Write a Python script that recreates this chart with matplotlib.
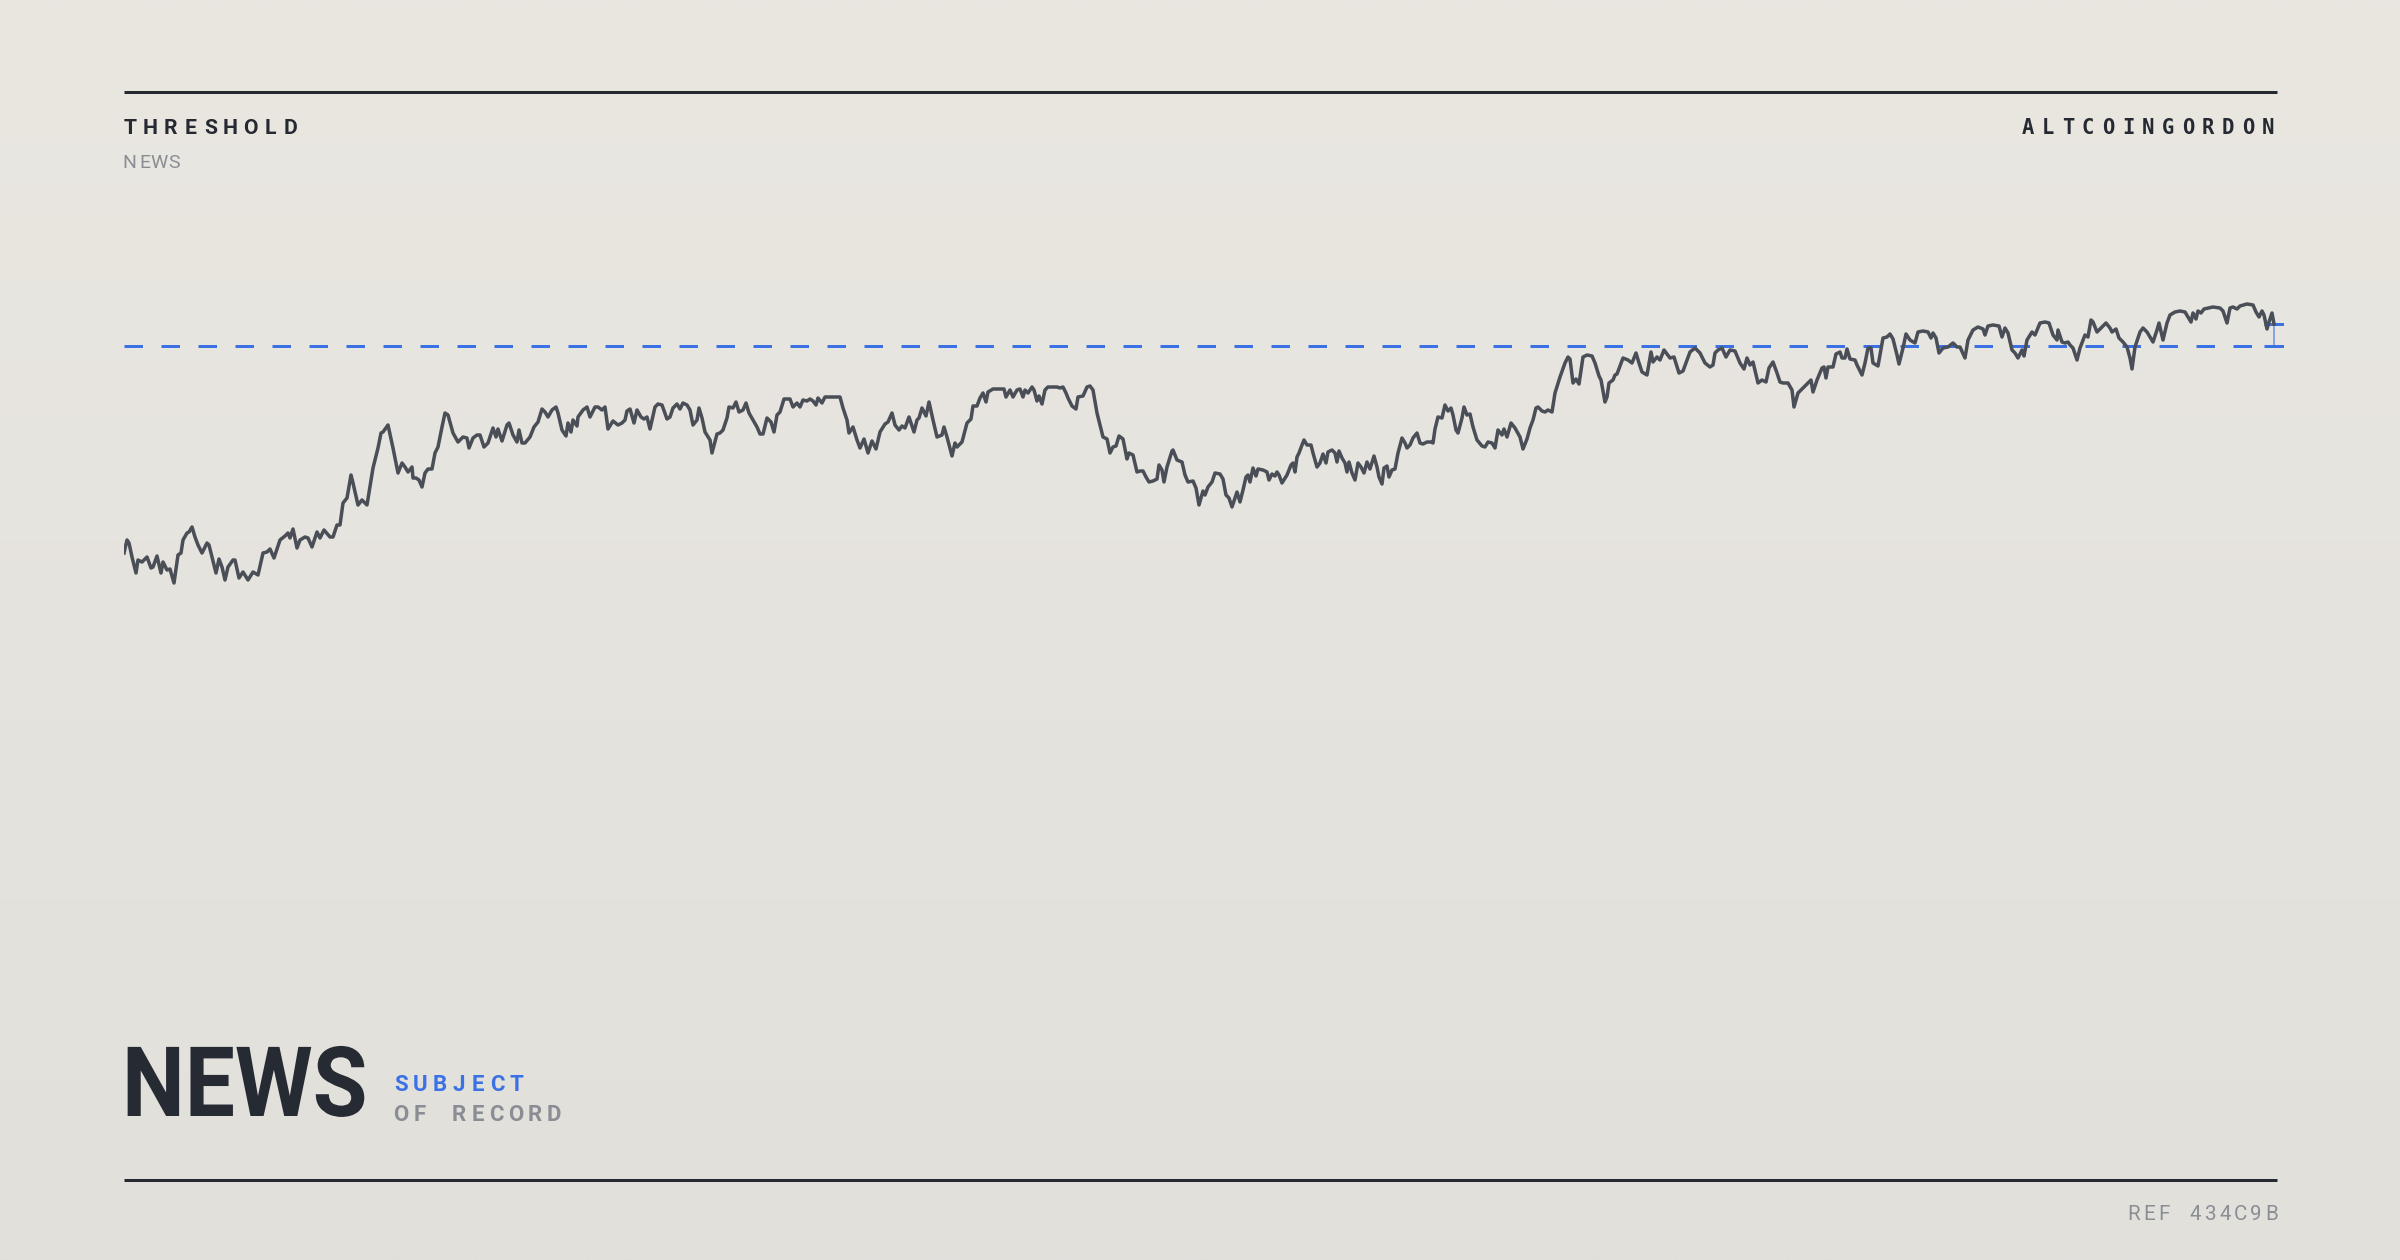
import numpy as np
import matplotlib
matplotlib.use("Agg")
import matplotlib.pyplot as plt
from matplotlib.patheffects import AbstractPathEffect
from matplotlib.transforms import Affine2D

# ---------------- data ----------------
day = [0,3,5,8,12,14,18,23,27,29,33,37,39,43,46,50,54,57,59,63,65,68,71,74,78,83,85,88,92,95,
       98,101,104,109,111,115,119,124,129,134,139,143,146,150,156,161,164,166,169,173,176,181,184,188,193,196,200,206,209,213,
       216,219,223,227,229,234,238,243,249,254,257,259,264,269,274,278,281,284,288,289,292,295,298,301,304,308,311,314,318,321,
       324,329,334,339,343,345,349,353,
       356,360,364,369,372,374,378,383,385,389,393,395,398,401,406,410,414,418,421,424,428,432,434,438,442,444,447,449,453,454,
       459,463,466,471,474,478,481,484,489,494,498,501,503,506,510,513,517,520,523,526,531,534,538,543,546,549,553,556,559,563,
       566,569,573,575,578,581,586,588,593,596,599,603,605,609,612,615,619,622,625,629,633,636,639,643,647,650,653,656,660,666,
       669,673,676,679,683,686,689,692,694,698,701,709,716,719,723,725,729,733,
       736,740,744,748,752,756,761,764,768,771,775,778,781,785,790,793,795,798,802,805,809,813,818,820,823,828,831,833,838,843,
       847,849,853,856,859,862,864,869,876,880,882,886,889,893,896,899,901,904,908,910,913,915,918,921,924,933,936,939,942,944,
       948,952,954,959,963,966,969,973,976,979,983,986,989,992,995,999,1003,1005,1009,1013,1016,1019,1022,1025,1029,1033,1035,1038,1040,1043,
       1048,1049,1053,1058,1061,1064,1069,1072,1075,1079,1081,1084,1088,1091,1096,1099,1102,1105,1108,1113,
       1116,1119,1122,1124,1126,1129,1132,1134,1139,1143,1145,1148,1151,1153,1155,1158,1163,1167,1169,1171,1173,1175,1178,1180,1183,1187,1189,1193,1196,1199,
       1202,1204,1208,1211,1213,1215,1218,1221,1223,1225,1228,1231,1234,1237,1240,1243,1246,1250,1253,1255,1258,1260,1263,1265,1268,1271,1274,1278,1281,1283,
       1286,1289,1293,1296,1299,1303,1307,1309,1311,1314,1318,1321,1324,1327,1329,1332,1334,1338,1340,1343,1346,1349,1353,1358,1361,1364,1368,1371,1374,1378,
       1380,1383,1387,1391,1396,1399,1403,1406,1409,1412,1414,1418,1421,1424,1428,1431,1436,1441,1444,1446,1449,1452,1455,1459,1463,1468,1471,1475,1477,1481,
       1483,1485,1489,1491,1493,
       1496,1499,1504,1508,1512,1515,1518,1523,1527,1529,1533,1536,1540,1543,1546,1550,1555,1559,1563,1566,1571,1576,1581,1586,1589,1591,1594,1598,1602,1606,
       1611,1616,1620,1623,1626,1629,1634,1638,1642,1645,1649,1653,1656,1659,1664,1668,1670,1674,1679,1683,1687,1689,1693,1698,1700,1702,1704,1709,1712,1716,
       1718,1721,1723,1726,1731,1733,1738,1741,1744,1747,1749,1754,1759,1763,1766,1769,1773,1775,1779,1782,1786,1791,1794,1799,1804,1807,1809,1812,1815,1819,
       1824,1829,1833,
       1836,1841,1844,1849,1854,1859,1861,1864,1869,1875,1878,1881,1884,1888,1891,1894,1898,1900,1903,1908,1911,1916,1921,1925,1929,1933,1934,1938,1941,1944,
       1946,1949,1953,1956,1961,1964,1967,1969,1973,1978,1982,1986,1988,1992,1995,1999,2003,2006,2008,2011,2016,2019,2023,2026,2029,2033,2035,2039,2043,2046,
       2051,2056,2061,2064,2067,2069,2072,2074,2077,2080,2089,2096,2099,2103,2106,2109,2113,2116,2123,2129,2132,2135,2138,2140,2143,2145,2148,2150]

level = [47,60,57,43,27,40,38,43,32,33,44,27,38,30,31,17,45,47,60,67,68,73,63,55,47,57,55,43,27,41,
         33,20,33,40,40,22,28,20,28,25,47,48,51,42,60,64,67,62,71,52,60,63,62,53,68,62,70,63,63,75,
         75,97,102,125,117,95,100,95,132,152,167,168,175,152,127,137,133,128,133,122,122,120,113,127,131,131,147,153,173,187,
         185,167,158,163,162,152,162,165,
         165,153,157,172,163,171,159,175,177,165,158,170,157,157,163,173,178,191,188,183,190,193,187,170,164,177,168,180,174,183,
         190,193,183,193,193,190,193,171,179,175,177,180,189,191,177,190,183,181,183,171,193,196,195,181,183,192,196,191,197,195,
         190,175,180,192,182,168,160,147,166,167,170,182,193,192,198,188,190,197,187,180,173,166,166,182,178,168,185,188,201,201,
         193,197,193,200,199,201,199,195,202,197,203,203,203,192,180,167,173,160,
         152,161,147,159,151,168,176,178,187,175,170,174,172,183,168,180,182,192,184,198,180,163,165,173,163,144,157,153,158,177,
         181,194,194,202,207,198,208,211,211,211,203,210,203,210,211,203,210,207,213,210,199,204,196,210,213,213,212,213,207,202,
         194,191,203,204,213,214,210,187,175,163,161,147,153,154,164,161,141,147,145,128,129,129,123,118,119,121,135,130,118,133,
         149,150,140,138,125,118,119,112,95,109,105,113,118,127,126,121,105,102,93,108,
         98,110,123,125,118,132,124,131,130,128,120,126,124,128,125,117,125,135,137,128,143,147,155,160,155,155,147,133,137,146,
         137,148,150,147,138,149,142,137,128,138,127,120,137,133,127,138,131,144,133,123,116,132,134,123,130,131,147,162,157,152,
         155,162,167,157,156,158,158,157,171,183,182,195,189,192,185,170,167,182,193,185,186,173,160,154,153,158,157,152,170,165,
         171,163,177,172,163,151,161,172,180,192,193,189,188,190,188,207,223,237,243,241,217,221,216,243,245,244,237,224,220,198,
         203,217,220,225,226,
         234,242,240,237,247,237,228,225,248,238,243,240,250,246,242,243,227,229,240,248,252,247,237,233,235,247,250,252,243,250,
         249,237,231,242,235,238,217,220,218,232,238,227,218,217,217,210,193,207,212,216,220,208,220,232,233,222,233,233,246,248,
         242,242,251,241,240,235,225,237,252,252,237,234,262,263,266,261,245,236,252,266,260,257,268,269,268,262,267,262,247,252,
         253,257,253,
         253,242,260,270,273,271,265,274,275,274,263,272,267,250,247,242,250,244,260,268,265,277,278,277,265,260,270,258,257,258,
         255,252,240,252,265,263,280,278,268,273,277,272,268,271,262,258,253,242,231,253,268,272,268,263,258,270,277,260,277,285,
         288,289,288,283,278,287,281,289,287,291,293,292,289,277,292,293,291,294,296,295,288,283,289,285,271,278,287,276]

threshold = 254

# ---------------- figure ----------------
plt.rcParams["lines.scale_dashes"] = False
W, H, DPI = 2400, 1260, 200
fig = plt.figure(figsize=(W / DPI, H / DPI), dpi=DPI)

PX = 72.0 / DPI  # points per pixel


class HScale(AbstractPathEffect):
    """Horizontally condense text glyphs about a fixed display x."""

    def __init__(self, sx, x0):
        super().__init__()
        self.sx = sx
        self.x0 = x0

    def draw_path(self, renderer, gc, tpath, affine, rgbFace=None):
        aff = affine + Affine2D().translate(-self.x0, 0).scale(self.sx, 1).translate(self.x0, 0)
        renderer.draw_path(gc, tpath, aff, rgbFace)


# decoration layer in pixel space
deco = fig.add_axes([0, 0, 1, 1], zorder=0)
deco.set_xlim(0, W)
deco.set_ylim(H, 0)
deco.axis("off")
top_c = np.array([234, 231, 225]) / 255
bot_c = np.array([225, 224, 219]) / 255
g = np.linspace(0, 1, 256)[:, None]
grad = top_c[None, None, :] * (1 - g[..., None]) + bot_c[None, None, :] * g[..., None]
grad = np.repeat(grad, 2, axis=1)
deco.imshow(grad, extent=[0, W, H, 0], aspect="auto", interpolation="bilinear", zorder=0)

DARK = "#252932"
GRAY = "#8A8D94"
BLUE = "#3A72E6"
LINE = "#4A4E57"

deco.plot([124, 2277], [92, 92], color=DARK, lw=3 * PX, solid_capstyle="butt", zorder=2)
deco.plot([124, 2277], [1180, 1180], color=DARK, lw=3 * PX, solid_capstyle="butt", zorder=2)


def spaced(s, x, baseline, size, pitch, color, weight="normal", family="Roboto",
           align="left", cw=12):
    n = len(s)
    if align == "left":
        start = x + cw / 2
    else:
        start = x - cw / 2 - (n - 1) * pitch
    for i, ch in enumerate(s):
        if ch == " ":
            continue
        deco.text(start + i * pitch, baseline, ch, ha="center", va="baseline",
                  fontsize=size, color=color, fontweight=weight,
                  family=[family, "DejaVu Sans"], zorder=3)


spaced("THRESHOLD", 124, 134, 7.6, 20.1, DARK, weight="bold")
spaced("NEWS", 124, 168, 7.0, 15.0, GRAY, cw=11)
spaced("ALTCOINGORDON", 2274, 134, 7.4, 20.0, DARK, weight="bold",
       family="DejaVu Sans Mono", align="right")

big = deco.text(122, 1116, "NEWS", ha="left", va="baseline", fontsize=35, fontweight="bold",
                color="#262A33", family=["Roboto", "DejaVu Sans"], zorder=3)
big.set_path_effects([HScale(0.915, 122)])

spaced("SUBJECT", 395, 1091, 8.0, 19.3, BLUE, weight="bold")
spaced("OF RECORD", 395, 1121, 8.0, 19.1, GRAY, weight="bold")
spaced("REF 434C9B", 2277, 1220, 7.4, 15.3, GRAY, align="right", cw=11)

# ---------------- data axes ----------------
ax = fig.add_axes([124 / W, (H - 650) / H, (2284 - 124) / W, 400 / H], zorder=1)
ax.patch.set_alpha(0)
ax.set_xlim(0, 2160)
ax.set_ylim(-50, 350)
ax.axis("off")

dash = ax.axhline(threshold, color=BLUE, lw=3 * PX, zorder=2)
dash.set_dashes((18.5 * PX, 18.5 * PX))
dash.set_dash_capstyle("butt")

ax.plot(day, level, color=LINE, lw=3.5 * PX, solid_joinstyle="round", zorder=3)

# marker showing gap between last value and threshold
last_t, last_v = day[-1], level[-1]
ax.plot([last_t, last_t], [threshold, last_v], color=BLUE, alpha=0.55, lw=2 * PX, zorder=2)
ax.plot([last_t - 10, last_t + 10], [last_v, last_v], color=BLUE, lw=3 * PX,
        solid_capstyle="butt", zorder=2)
ax.plot([last_t - 10, last_t + 10], [threshold, threshold], color=BLUE, lw=3 * PX,
        solid_capstyle="butt", zorder=2)

fig.savefig("out.png", dpi=DPI)
